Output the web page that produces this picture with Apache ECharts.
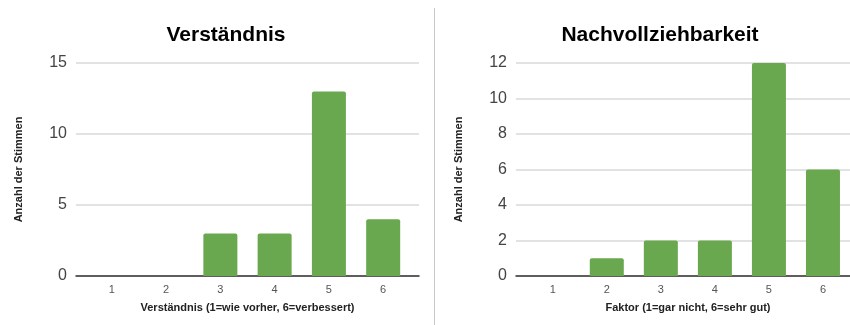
<!DOCTYPE html>
<html>
<head>
<meta charset="utf-8">
<script src="https://cdn.jsdelivr.net/npm/echarts@6/dist/echarts.min.js"></script>
<style>
  html, body { margin: 0; padding: 0; background: #fff; }
  #chart { width: 850px; height: 325px; }
</style>
</head>
<body>
<div id="chart"></div>
<script>
// Werte
var categories = [1, 2, 3, 4, 5, 6];
var verstaendnisValues = [0, 0, 3, 3, 13, 4];
var nachvollValues = [0, 1, 2, 2, 12, 6];

var FONT = '"Liberation Sans", Arial, sans-serif';
var GREEN = '#6aa84f';

function pairs(values) {
  return categories.map(function (c, i) { return [c, values[i]]; });
}

function xAxisFor(gridIndex, name, min, max, namePad) {
  return {
    type: 'value',
    gridIndex: gridIndex,
    min: min,
    max: max,
    name: name,
    nameLocation: 'middle',
    nameGap: 26,
    nameTextStyle: { fontFamily: FONT, fontSize: 11, fontWeight: 'bold', color: '#222', padding: namePad },
    axisLine: { show: true, onZero: false, lineStyle: { color: '#333', width: 1.5 } },
    axisTick: { show: false },
    splitLine: { show: false },
    axisLabel: {
      customValues: categories,
      margin: 8,
      fontFamily: FONT,
      fontSize: 11,
      color: '#555'
    }
  };
}

function yAxisFor(gridIndex, max, interval) {
  return {
    type: 'value',
    gridIndex: gridIndex,
    min: 0,
    max: max,
    interval: interval,
    name: 'Anzahl der Stimmen',
    nameLocation: 'middle',
    nameRotate: 90,
    nameGap: 52,
    nameTextStyle: { fontFamily: FONT, fontSize: 11, fontWeight: 'bold', color: '#222' },
    axisLine: { show: false },
    axisTick: { show: false },
    splitLine: { lineStyle: { color: '#d9d9d9', width: 1.5 } },
    axisLabel: { margin: 9, fontFamily: FONT, fontSize: 16, color: '#444' }
  };
}

var option = {
  animation: false,
  backgroundColor: '#fff',
  title: [
    {
      text: 'Verständnis',
      left: 221,
      top: 20,
      textAlign: 'center',
      textStyle: { fontFamily: FONT, fontSize: 21, fontWeight: 'bold', color: '#000' }
    },
    {
      text: 'Nachvollziehbarkeit',
      left: 655,
      top: 20,
      textAlign: 'center',
      textStyle: { fontFamily: FONT, fontSize: 21, fontWeight: 'bold', color: '#000' }
    }
  ],
  grid: [
    { left: 76, width: 343, top: 63, bottom: 49 },
    { left: 516, right: 0, top: 63, bottom: 49 }
  ],
  xAxis: [
    xAxisFor(0, 'Verständnis (1=wie vorher, 6=verbessert)', 0.34, 6.66, 0),
    xAxisFor(1, 'Faktor (1=gar nicht, 6=sehr gut)', 0.32, 6.5, [0, 0, 0, 10])
  ],
  yAxis: [
    yAxisFor(0, 15, 5),
    yAxisFor(1, 12, 2)
  ],
  series: [
    {
      type: 'bar',
      xAxisIndex: 0,
      yAxisIndex: 0,
      barWidth: 34,
      data: pairs(verstaendnisValues),
      itemStyle: { color: GREEN, borderRadius: [2, 2, 0, 0] }
    },
    {
      type: 'bar',
      xAxisIndex: 1,
      yAxisIndex: 1,
      barWidth: 34,
      data: pairs(nachvollValues),
      itemStyle: { color: GREEN, borderRadius: [2, 2, 0, 0] }
    }
  ],
  graphic: [
    {
      type: 'line',
      shape: { x1: 434.5, y1: 8, x2: 434.5, y2: 325 },
      style: { stroke: '#c8c8c8', lineWidth: 1 }
    }
  ]
};

echarts.init(document.getElementById('chart')).setOption(option);
</script>
</body>
</html>
